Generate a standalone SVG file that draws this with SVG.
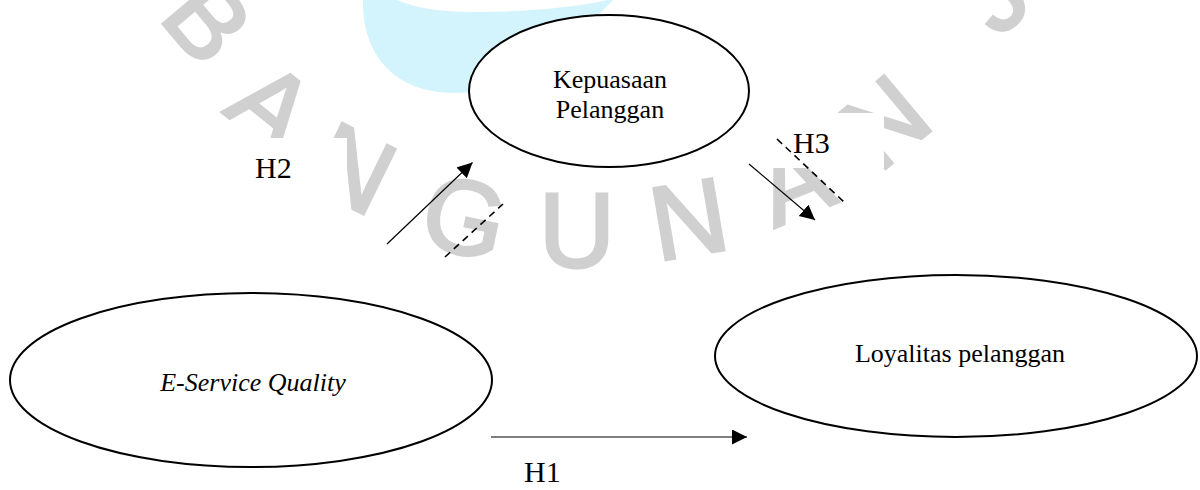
<svg xmlns="http://www.w3.org/2000/svg" width="1200" height="490" viewBox="0 0 1200 490">
  <defs>
    <style>
      .wm { font-family: "Liberation Sans", Arial, sans-serif; font-size: 105px; fill: #d0d0d0; stroke: #d0d0d0; stroke-width: 3; text-anchor: middle; }
      .node { fill: #ffffff; stroke: #000000; stroke-width: 2; }
      .lbl { font-family: "Liberation Serif", "Times New Roman", serif; font-size: 26px; fill: #000000; text-anchor: middle; }
      .h { font-family: "Liberation Serif", "Times New Roman", serif; font-size: 30px; fill: #000000; }
      .arrow { stroke: #000000; stroke-width: 1.2; fill: none; }
      .dash { stroke: #000000; stroke-width: 1.6; stroke-dasharray: 7 5; fill: none; }
    </style>
    <marker id="ah" markerUnits="userSpaceOnUse" markerWidth="16" markerHeight="16" refX="15" refY="7.5" orient="auto">
      <path d="M0,0 L15,7.5 L0,15 Z" fill="#000000"/>
    </marker>
    <clipPath id="wmclip">
      <path clip-rule="evenodd" d="M0,0 H1200 V490 H0 Z M200,138 H347 V215 H200 Z M770,113 H884 V168 H770 Z"/>
    </clipPath>
  </defs>

  <rect x="0" y="0" width="1200" height="490" fill="#ffffff"/>

  <g id="watermark">
    <path d="M363,0 C362,50 390,93 455,93 C520,93 565,50 613,0 L607,0 C575,8 520,12 473,12 C440,12 415,8 397,0 Z" fill="#d3f3fd"/>
    <g clip-path="url(#wmclip)">
      <text class="wm" transform="translate(180,44) rotate(50)">B</text>
      <text class="wm" transform="translate(249,134) rotate(39)">A</text>
      <text class="wm" transform="translate(337,201) rotate(26)">N</text>
      <text class="wm" transform="translate(457,253) rotate(12)">G</text>
      <text class="wm" transform="translate(577,267)">U</text>
      <text class="wm" transform="translate(695,255) rotate(-9.6)">N</text>
      <text class="wm" transform="translate(807,215) rotate(-22)">A</text>
      <text class="wm" transform="translate(908,150) rotate(-40)">N</text>
      <text class="wm" transform="translate(1017,22) rotate(-40)">J</text>
    </g>
  </g>

  <g id="connectors">
    <line class="arrow" x1="387" y1="244" x2="472.5" y2="162.5" marker-end="url(#ah)"/>
    <line class="dash" x1="445" y1="257" x2="503" y2="204"/>
    <line class="arrow" x1="749" y1="164" x2="815" y2="220" marker-end="url(#ah)"/>
    <line class="dash" x1="777" y1="139" x2="844" y2="202"/>
    <line class="arrow" x1="491" y1="437" x2="747" y2="437" marker-end="url(#ah)"/>
    <text class="h" x="255" y="178">H2</text>
    <text class="h" x="793" y="153">H3</text>
    <text class="h" x="524" y="482">H1</text>
  </g>

  <g id="node-kepuasan">
    <ellipse class="node" cx="609" cy="91" rx="140" ry="76"/>
    <text class="lbl" x="610" y="88">Kepuasaan</text>
    <text class="lbl" x="610" y="118">Pelanggan</text>
  </g>

  <g id="node-eservice">
    <ellipse class="node" cx="251" cy="380" rx="241" ry="87"/>
    <text class="lbl" x="253" y="391" font-style="italic">E-Service Quality</text>
  </g>

  <g id="node-loyalitas">
    <ellipse class="node" cx="956" cy="356" rx="241" ry="81"/>
    <text class="lbl" x="960" y="362">Loyalitas pelanggan</text>
  </g>
</svg>
